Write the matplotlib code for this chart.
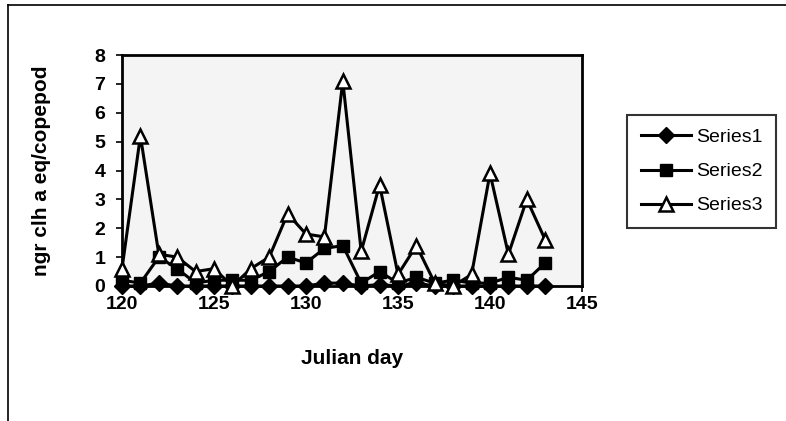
import matplotlib
matplotlib.use("Agg")
import matplotlib.pyplot as plt
from matplotlib.lines import Line2D

plt.rcParams['font.family'] = ['Liberation Sans', 'DejaVu Sans']

days = list(range(120, 144))
series1 = [0.0, 0.0, 0.1, 0.0, 0.0, 0.0, 0.0, 0.0, 0.0, 0.0, 0.0, 0.1,
           0.1, 0.0, 0.05, 0.0, 0.1, 0.0, 0.0, 0.0, 0.0, 0.0, 0.0, 0.0]
series2 = [0.2, 0.1, 1.0, 0.6, 0.1, 0.2, 0.2, 0.2, 0.5, 1.0, 0.8, 1.3,
           1.4, 0.1, 0.5, 0.1, 0.3, 0.1, 0.2, 0.1, 0.1, 0.3, 0.2, 0.8]
series3 = [0.6, 5.2, 1.1, 1.0, 0.5, 0.6, 0.0, 0.6, 1.0, 2.5, 1.8, 1.7,
           7.1, 1.2, 3.5, 0.4, 1.4, 0.1, 0.0, 0.4, 3.9, 1.1, 3.0, 1.6]
series_names = ["Series1", "Series2", "Series3"]
x_ticks = [120, 125, 130, 135, 140, 145]
y_ticks = [0, 1, 2, 3, 4, 5, 6, 7, 8]
x_label = "Julian day"
y_label = "ngr clh a eq/copepod"

W, H = 786, 421
fig = plt.figure(figsize=(W / 100, H / 100), dpi=100)

# outer chart frame (left and top edges)
fig.add_artist(Line2D([8 / W, 8 / W], [0, 1 - 5 / H], transform=fig.transFigure,
                      color='black', lw=1.2))
fig.add_artist(Line2D([8 / W, 1], [1 - 5 / H, 1 - 5 / H], transform=fig.transFigure,
                      color='black', lw=1.2))

left, right, top, bottom = 122, 582, 55, 286
ax = fig.add_axes([left / W, 1 - bottom / H, (right - left) / W, (bottom - top) / H])

ax.plot(days, series1, color='black', lw=2.2, marker='D', markersize=8,
        markerfacecolor='black', markeredgecolor='black', clip_on=False,
        label=series_names[0], zorder=3)
ax.plot(days, series2, color='black', lw=2.2, marker='s', markersize=9,
        markerfacecolor='black', markeredgecolor='black', clip_on=False,
        label=series_names[1], zorder=4)
ax.plot(days, series3, color='black', lw=2.2, marker='^', markersize=10,
        markerfacecolor='white', markeredgecolor='black', markeredgewidth=1.8,
        clip_on=False, label=series_names[2], zorder=5)

ax.set_xlim(120, 145)
ax.set_ylim(0, 8)
ax.set_xticks(x_ticks)
ax.set_yticks(y_ticks)
ax.tick_params(axis='both', direction='out', length=4, width=1.2, labelsize=14,
               colors='black')
ax.tick_params(axis='x', pad=3)
ax.tick_params(axis='y', pad=8)
for lab in ax.get_xticklabels() + ax.get_yticklabels():
    lab.set_fontweight('bold')
for s in ax.spines.values():
    s.set_linewidth(2)
    s.set_color('black')
ax.set_facecolor('#f4f4f4')

ax.set_xlabel(x_label, fontsize=15, fontweight='bold', labelpad=26)
ax.set_ylabel(y_label, fontsize=15, fontweight='bold', labelpad=31)

leg = ax.legend(loc='upper left', bbox_to_anchor=(627 / W, 1 - 115 / H),
                bbox_transform=fig.transFigure, frameon=True, fancybox=False,
                edgecolor='black', fontsize=14, handlelength=2.6,
                borderpad=0.7, labelspacing=0.85, handletextpad=0.25,
                borderaxespad=0)
leg.get_frame().set_linewidth(1.5)

fig.savefig("out.png", dpi=100, facecolor='white')
